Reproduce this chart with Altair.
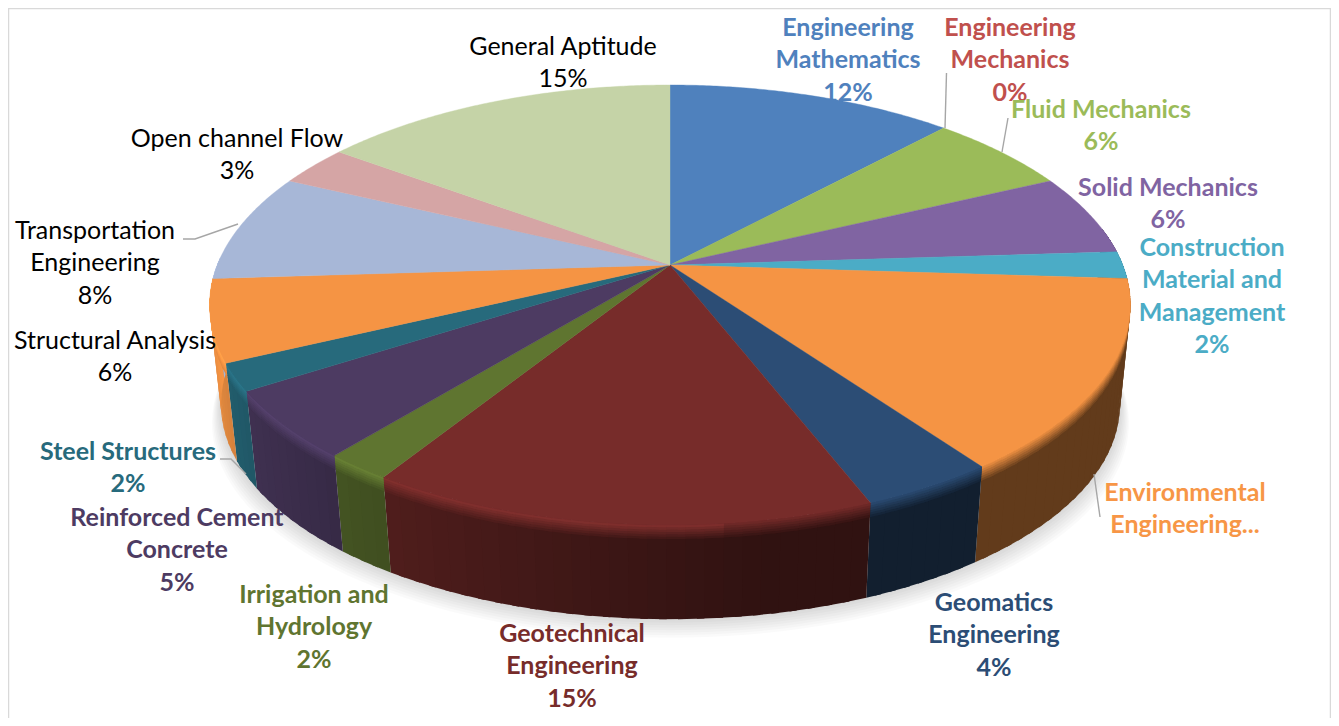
import math
import altair as alt
import pandas as pd

# ---------- data ----------
categories = ["Engineering Mathematics", "Engineering Mechanics", "Fluid Mechanics", "Solid Mechanics",
              "Construction Material and Management", "Environmental Engineering", "Geomatics Engineering",
              "Geotechnical Engineering", "Irrigation and Hydrology", "Reinforced Cement Concrete",
              "Steel Structures", "Structural Analysis", "Transportation Engineering",
              "Open channel Flow", "General Aptitude"]
values = [12, 0, 6, 6, 2, 14, 4, 15, 2, 5, 2, 6, 8, 3, 15]
colors = ["#4f81bd", "#c0504d", "#9bbb59", "#8064a2", "#4bacc6", "#f59444", "#2c4d75", "#772c2a",
          "#5f7530", "#4d3b62", "#276a7c", "#f59444", "#a7b7d7", "#d5a5a5", "#c5d3a7"]
label_texts = ["Engineering\nMathematics\n12%", "Engineering\nMechanics\n0%", "Fluid Mechanics\n6%",
               "Solid Mechanics\n6%", "Construction\nMaterial and\nManagement\n2%",
               "Environmental\nEngineering...", "Geomatics\nEngineering\n4%", "Geotechnical\nEngineering\n15%",
               "Irrigation and\nHydrology\n2%", "Reinforced Cement\nConcrete\n5%", "Steel Structures\n2%",
               "Structural Analysis\n6%", "Transportation\nEngineering\n8%", "Open channel Flow\n3%",
               "General Aptitude\n15%"]
label_colors = ["#4f81bd", "#c0504d", "#9bbb59", "#8064a2", "#4bacc6", "#f79646", "#2c4d75", "#772c2a",
                "#5f7530", "#4d3b62", "#276a7c", "#000000", "#000000", "#000000", "#000000"]
label_bold = [True] * 11 + [False] * 4

# ---------- layout ----------
label_x = [848, 1010, 1101, 1168, 1212, 1185, 994, 572, 314, 177, 128, 115, 95, 237, 563]
label_y = [28, 28, 110, 188, 248, 493, 603, 634, 595, 518, 452, 341, 231, 139, 47]
leaders = [[(946.5, 73), (945, 128)], [(1008, 118), (1002, 152)], [(1094, 474), (1100, 517)],
           [(238, 224), (195, 239), (183, 239)], [(220, 459), (231, 459), (246, 474)]]
frame = [[(8.5, 726), (8.5, 8.5), (1330.5, 8.5), (1330.5, 726)]]
CX, CY, K, KC, D = 670, 265, 2490, 1170, 5.5
VX, VY, WALL = 690, 4500, 0.0237
OFF = 8


def top(theta):
    r = math.radians(theta)
    X, Y = math.sin(r), -math.cos(r)
    d = D - Y
    return CX + K * X / d, CY + KC * Y / d


def drop(p, u):
    return p[0] + u * WALL * (VX - p[0]), p[1] + u * WALL * (VY - p[1])


def hex2rgb(c):
    return [int(c[i:i + 2], 16) for i in (1, 3, 5)]


def mix(c, f):
    return "#%02x%02x%02x" % tuple(min(255, max(0, round(v * f))) for v in hex2rgb(c))


def light(theta):
    return 0.4 if theta <= 170 else min(1.0, 0.4 + 0.6 * (theta - 170) / 95)


def poly(pts, **props):
    ring = [list(p) for p in pts]
    ring.append(ring[0])
    return {"type": "Feature", "geometry": {"type": "Polygon", "coordinates": [ring]}, "properties": props}


def angles(a, b, step):
    n = max(1, math.ceil((b - a) / step))
    return [a + (b - a) * i / n for i in range(n + 1)]


total = sum(values)
spans, cum = [], 0
for v in values:
    spans.append((cum / total * 360, (cum + v) / total * 360))
    cum += v

# shadow under the disc
shadow = []
rim = [drop(top(t), 1) for t in angles(0, 360, 2)]
for i in range(8):
    grow = 1 + i * 2.5
    shadow.append(poly([(x + grow * 0.5 * (x - CX) / 460, y + grow) for x, y in rim]))

# side wall, shaded by direction and by height. Every layer reaches from the rim down to its own
# depth; shallower layers are painted over deeper ones, so no seam shows between them.
depths = [1, .15, .125, .10, .075, .05, .025]
walls = []
for j, u in enumerate(depths):
    w = 1 if j == 0 else 1 - j / len(depths)
    for (a, b), c in zip(spans, colors):
        lo, hi = max(a, 80), min(b, 272)
        if hi <= lo:
            continue
        ts = angles(lo, hi, 2)
        for t0, t1 in zip(ts, ts[1:]):
            tm = (t0 + t1) / 2
            rim_f = 1.15 if tm > 175 else 1.0
            f = rim_f + (light(tm) - rim_f) * w
            p0, p1 = top(t0), top(min(t1 + 0.8, hi))
            walls.append(poly([p0, p1, drop(p1, u), drop(p0, u)], fill=mix(c, f)))

# top surface
tops = []
for (a, b), c in zip(spans, colors):
    if b > a:
        tops.append(poly([(CX, CY)] + [top(t) for t in angles(a, b, 0.5)], fill=c))


def lines(groups):
    return [{"type": "Feature", "geometry": {"type": "LineString", "coordinates": [list(p) for p in g]},
             "properties": {}} for g in groups]


def project(ch):
    return ch.project(type="identity", scale=1, translate=[-OFF, -OFF])


def geo(features):
    return alt.Data(values={"type": "FeatureCollection", "features": features},
                    format=alt.DataFormat(property="features", type="json"))


frame_layer = project(alt.Chart(geo(lines(frame))).mark_geoshape(filled=False, stroke="#d9d9d9", strokeWidth=1.5))
shadow_layer = project(alt.Chart(geo(shadow)).mark_geoshape(fill="#000000", fillOpacity=0.018, strokeWidth=0))
wall_layer = project(alt.Chart(geo(walls)).mark_geoshape(strokeWidth=0).encode(
    fill=alt.Fill("properties.fill:N", scale=None)))
top_layer = project(alt.Chart(geo(tops)).mark_geoshape(strokeWidth=0.4).encode(
    fill=alt.Fill("properties.fill:N", scale=None), stroke=alt.Stroke("properties.fill:N", scale=None)))
leader_layer = project(alt.Chart(geo(lines(leaders))).mark_geoshape(filled=False, stroke="#a6a6a6", strokeWidth=1.4))

labels = pd.DataFrame({"text": label_texts, "color": label_colors, "bold": label_bold,
                       "x": [v - OFF for v in label_x], "y": [v - OFF for v in label_y]})


def text_layer(df, weight):
    return alt.Chart(df).mark_text(font="Lato", fontSize=25, fontWeight=weight, lineBreak="\n", lineHeight=32.4,
                                   align="center", baseline="middle").encode(
        x=alt.X("x:Q", scale=None, axis=None), y=alt.Y("y:Q", scale=None, axis=None),
        text="text:N", color=alt.Color("color:N", scale=None))


chart = alt.layer(
    frame_layer, shadow_layer, wall_layer, top_layer, leader_layer,
    text_layer(labels[labels.bold], "bold"), text_layer(labels[~labels.bold], "normal")
).properties(width=1323, height=710, padding=0, autosize="none", background="#ffffff"
).configure_view(stroke=None)

chart.save("out.html", embed_options={"renderer": "svg", "actions": False})
